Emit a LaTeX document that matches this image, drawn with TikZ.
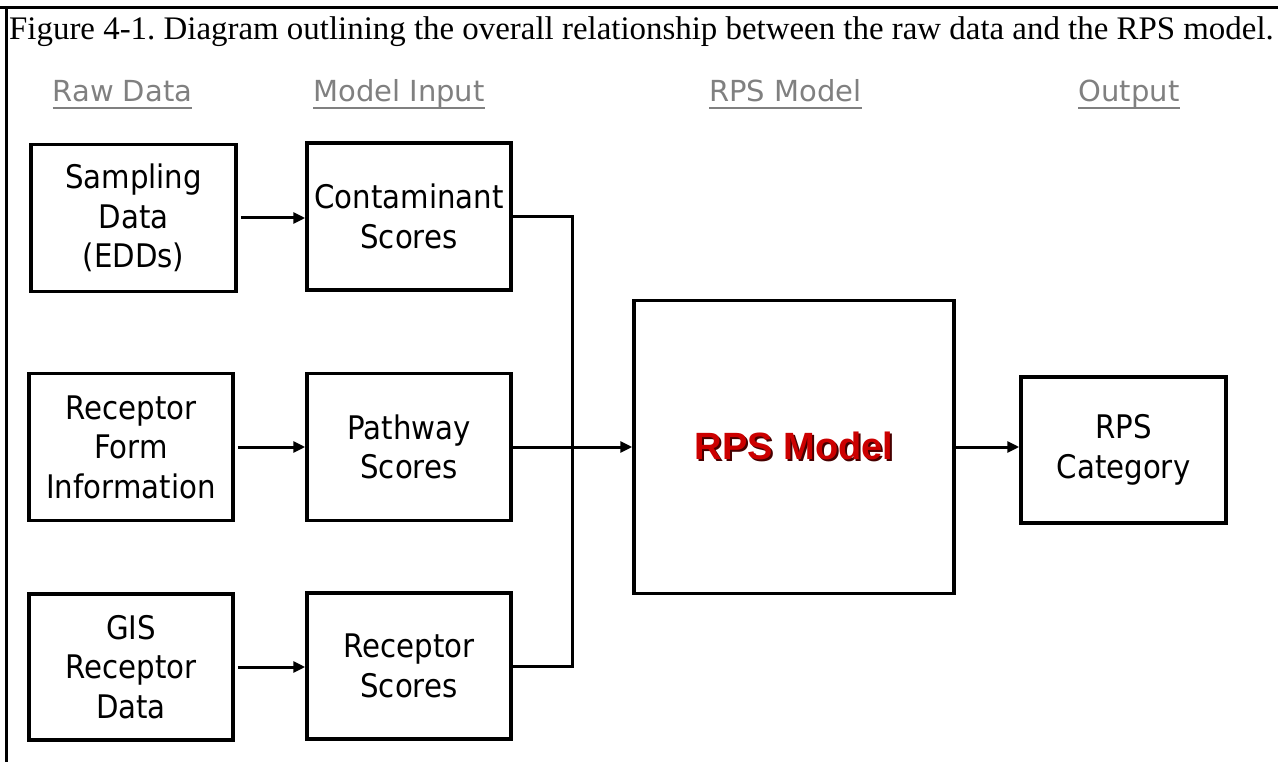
\documentclass[tikz,border=0pt]{standalone}
\usepackage{fontspec}
\setmainfont{Liberation Serif}
\newfontfamily\boxfont{DejaVu Sans}[FakeStretch=0.9]
\newfontfamily\hdrfont{DejaVu Sans}
\newfontfamily\redfont{Liberation Sans}
\usetikzlibrary{arrows.meta}
\definecolor{hdrgray}{RGB}{128,128,128}
\definecolor{rpsred}{RGB}{204,0,0}
\definecolor{rpsshadow}{RGB}{70,0,0}
\newcommand{\boxtext}{\boxfont\fontsize{32.5}{39.5}\selectfont}
\newcommand{\hdrtext}{\hdrfont\fontsize{29}{32}\selectfont}
\newcommand{\titletext}{\fontsize{32.9}{36}\selectfont}
\newcommand{\redtext}{\redfont\bfseries\fontsize{38}{40}\selectfont}
\newcommand{\shadowed}[1]{\rlap{\hspace{2pt}\raisebox{-2pt}{\textcolor{rpsshadow}{#1}}}\textcolor{rpsred}{#1}}
\frenchspacing
\begin{document}
\begin{tikzpicture}[x=1pt,y=-1pt,
  box/.style={draw, line width=3.5pt, rectangle, inner sep=0pt, align=center, font=\boxtext},
  conn/.style={line width=3pt},
  arr/.style={conn, -{Triangle[length=12pt,width=11pt]}},
  hdr/.style={font=\hdrtext, text=hdrgray, inner sep=0pt, anchor=base},
  uline/.style={draw=hdrgray, line width=2pt}]
\useasboundingbox (0,0) rectangle (1278,762);
% frame
\draw[line width=3pt] (0,7.5) -- (1278,7.5);
\draw[line width=2.5pt] (6.5,7.5) -- (6.5,762);
% title
\node[anchor=base west, inner sep=0pt, font=\titletext] (title) at (9,40) {Figure 4-1. Diagram outlining the overall relationship between the raw data and the RPS model.};
% headers
\node[hdr] (h1) at (122.5,102) {Raw Data};
\node[hdr] (h2) at (399,102) {Model Input};
\node[hdr] (h3) at (785.5,102) {RPS Model};
\node[hdr] (h4) at (1129,102) {Output};
\foreach \h in {h1,h2,h3,h4}
  \draw[uline] ([yshift=-6pt]\h.base west) -- ([yshift=-6pt]\h.base east);
% boxes
\node[box, minimum width=205pt, minimum height=147pt] (S) at (133.5,218) {Sampling\\Data\\(EDDs)};
\node[box, minimum width=204pt, minimum height=147pt] (C) at (409,216.5) {Contaminant\\Scores};
\node[box, minimum width=204pt, minimum height=147pt] (RF) at (131,447) {Receptor\\Form\\Information};
\node[box, minimum width=204pt, minimum height=147pt] (P) at (409,447) {Pathway\\Scores};
\node[box, minimum width=204pt, minimum height=146pt] (G) at (131,667) {GIS\\Receptor\\Data};
\node[box, minimum width=204pt, minimum height=146pt] (RS) at (409,666) {Receptor\\Scores};
\node[box, minimum width=320pt, minimum height=293pt, font=\redtext] (M) at (794,447) {\shadowed{RPS Model}};
\node[box, minimum width=205pt, minimum height=146pt] (K) at (1123.5,450) {RPS\\Category};
% connectors
\coordinate (bus) at (572,447);
\draw[arr, shorten <=3pt] (S.east) -- (S.east -| C.west);
\draw[arr, shorten <=3pt] (RF.east) -- (P.west);
\draw[arr, shorten <=3pt] (G.east) -- (G.east -| RS.west);
\draw[conn] (C.east) -- (C.east -| bus) -- (bus |- RS.east) -- (RS.east);
\draw[arr] (P.east) -- (M.west);
\draw[arr] (M.east) -- (M.east -| K.west);
\end{tikzpicture}
\end{document}
